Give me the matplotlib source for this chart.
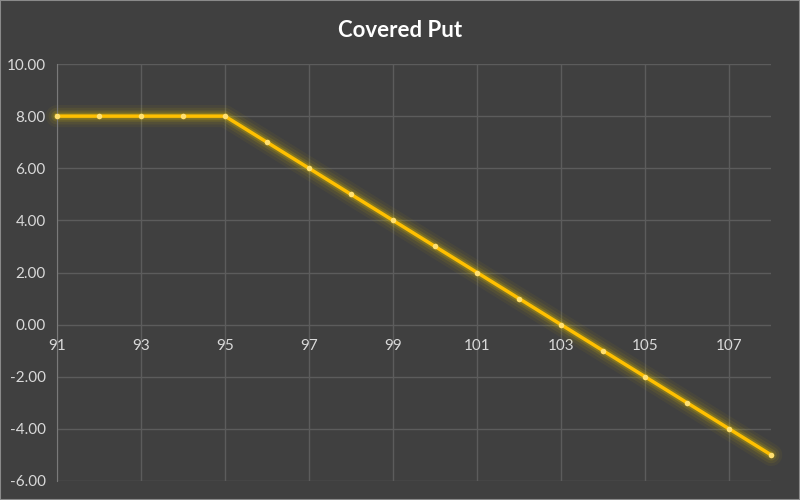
import matplotlib
matplotlib.use("Agg")
import matplotlib.pyplot as plt

# payoff of covered put
strike = [91, 92, 93, 94, 95, 96, 97, 98, 99, 100, 101, 102, 103, 104, 105, 106, 107, 108]
payoff = [8, 8, 8, 8, 8, 7, 6, 5, 4, 3, 2, 1, 0, -1, -2, -3, -4, -5]
xticks = [91, 93, 95, 97, 99, 101, 103, 105, 107]
yticks = [-6, -4, -2, 0, 2, 4, 6, 8, 10]

bg = "#404040"
grid = "#5c5c5c"
txt = "#d9d9d9"

plt.rcParams['font.family'] = ['Lato', 'DejaVu Sans']

fig = plt.figure(figsize=(8, 5), dpi=100, facecolor=bg)
ax = fig.add_axes([0.071, 0.038, 0.893, 0.834])
ax.set_facecolor(bg)

# glow underneath
for lw, a in [(16, 0.05), (12, 0.08), (8, 0.14), (5, 0.25)]:
    ax.plot(strike, payoff, color="#e0c000", lw=lw, alpha=a, solid_capstyle="round",
            zorder=2, clip_on=False)
ax.plot(strike, payoff, color="#ffc000", lw=2.5, zorder=3, clip_on=False)
ax.plot(strike, payoff, "o", ms=4, color="#ffe070", mec="none", zorder=4, clip_on=False)

ax.set_xlim(91, 108)
ax.set_ylim(-6, 10)
ax.set_xticks(xticks)
ax.set_yticks(yticks)
ax.set_yticklabels([f"{v:.2f}" for v in yticks])
ax.grid(True, color=grid, lw=1)
ax.set_axisbelow(True)

for s in ["top", "right", "bottom"]:
    ax.spines[s].set_visible(False)
ax.spines["left"].set_color("#7a7a7a")
ax.spines["bottom"].set_position(("data", 0))

ax.tick_params(axis="both", length=0, colors=txt, labelsize=11)
ax.tick_params(axis="y", pad=8)
ax.tick_params(axis="x", pad=10)

fig.suptitle("Covered Put", x=0.5, y=0.96, color="white", fontsize=16, fontweight="bold")

# thin light border around figure
fig.patches.append(plt.Rectangle((0, 0), 1, 1, transform=fig.transFigure, fill=False,
                                 ec="#8a8a8a", lw=1.5))

fig.savefig("out.png", dpi=100, facecolor=bg)
